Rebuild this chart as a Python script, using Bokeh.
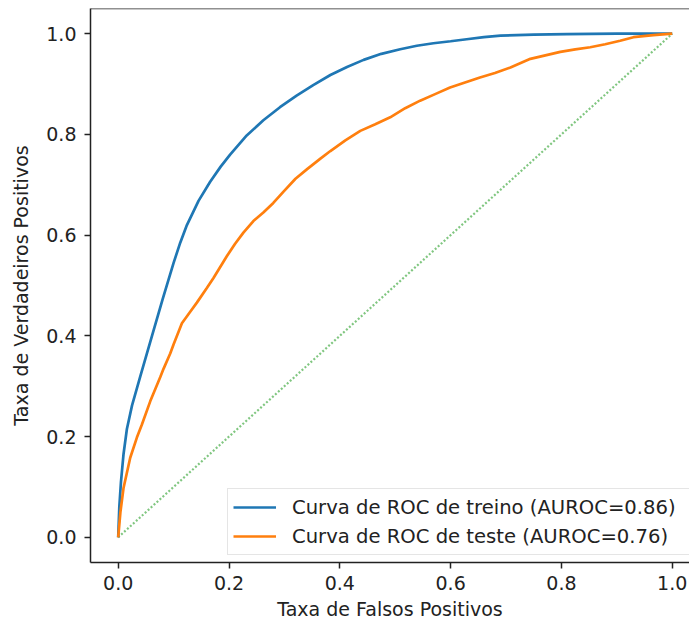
from bokeh.plotting import figure
from bokeh.models import FixedTicker, PrintfTickFormatter, Span, Legend, LegendItem
from bokeh.embed import file_html
from bokeh.resources import INLINE

# ---- data ----
train_fpr = [0.0, 0.002, 0.005, 0.0096, 0.0157, 0.025, 0.040, 0.061, 0.080, 0.100,
             0.112, 0.124, 0.145, 0.166, 0.185, 0.202, 0.232, 0.262, 0.292,
             0.322, 0.352, 0.383, 0.413, 0.443, 0.475, 0.509, 0.539, 0.569, 0.600,
             0.629, 0.660, 0.690, 0.750, 0.810, 0.900, 1.0]
train_tpr = [0.0, 0.06, 0.11, 0.165, 0.215, 0.262, 0.320, 0.400, 0.472, 0.545,
             0.585, 0.620, 0.668, 0.706, 0.736, 0.760, 0.798, 0.828, 0.854,
             0.877, 0.898, 0.918, 0.934, 0.948, 0.960, 0.969, 0.976, 0.981, 0.985,
             0.989, 0.993, 0.996, 0.998, 0.999, 1.0, 1.0]

test_fpr = [0.0, 0.004, 0.0096, 0.0217, 0.0337, 0.0428, 0.0578, 0.0758, 0.082, 0.0939,
            0.0999, 0.115, 0.130, 0.142, 0.160, 0.172, 0.196, 0.211, 0.226, 0.244,
            0.262, 0.280, 0.298, 0.320, 0.341, 0.365, 0.383, 0.410, 0.437, 0.464,
            0.491, 0.518, 0.545, 0.572, 0.599, 0.626, 0.653, 0.680, 0.708, 0.744,
            0.771, 0.798, 0.825, 0.852, 0.879, 0.906, 0.930, 0.966, 1.0]
test_tpr = [0.0, 0.05, 0.098, 0.158, 0.198, 0.224, 0.270, 0.318, 0.335, 0.365,
            0.383, 0.425, 0.448, 0.466, 0.495, 0.515, 0.558, 0.583, 0.605, 0.628,
            0.645, 0.664, 0.686, 0.712, 0.731, 0.752, 0.767, 0.788, 0.807, 0.820,
            0.834, 0.852, 0.867, 0.880, 0.893, 0.903, 0.913, 0.922, 0.933, 0.950,
            0.957, 0.964, 0.969, 0.973, 0.979, 0.986, 0.993, 0.997, 1.0]

diag = [0.0, 1.0]

train_label = "Curva de ROC de treino (AUROC=0.86)"
test_label = "Curva de ROC de teste (AUROC=0.76)"
x_title = "Taxa de Falsos Positivos"
y_title = "Taxa de Verdadeiros Positivos"
ticks = [0.0, 0.2, 0.4, 0.6, 0.8, 1.0]

FONT = "DejaVu Sans"
FS = "19px"

p = figure(width=689, height=622, output_backend="svg", toolbar_location=None,
           x_range=(-0.05, 1.0312), y_range=(-0.05, 1.05),
           min_border_left=90, min_border_top=8, min_border_right=0, min_border_bottom=0)
p.outline_line_color = None
p.grid.visible = False
p.background_fill_color = "white"
p.border_fill_color = "white"

l_diag = p.line(diag, diag, line_color="#2ca02c", line_alpha=0.6, line_width=2.2,
                line_dash="2 2")
l_train = p.line(train_fpr, train_tpr, line_color="#1f77b4", line_width=2.7)
l_test = p.line(test_fpr, test_tpr, line_color="#ff7f0e", line_width=2.7)

top_border = Span(location=1.05, dimension="width", line_color="#222222", line_width=1.5)
p.add_layout(top_border)

for ax in (p.xaxis[0], p.yaxis[0]):
    ax.ticker = FixedTicker(ticks=ticks)
    ax.formatter = PrintfTickFormatter(format="%.1f")
    ax.minor_tick_line_color = None
    ax.major_tick_in = 0
    ax.major_tick_out = 6
    ax.major_tick_line_width = 1.5
    ax.major_tick_line_color = "#222222"
    ax.axis_line_width = 1.5
    ax.axis_line_color = "#222222"
    ax.major_label_text_font = FONT
    ax.major_label_text_font_size = FS
    ax.major_label_text_color = "#222222"
    ax.axis_label_text_font = FONT
    ax.axis_label_text_font_size = FS
    ax.axis_label_text_font_style = "normal"
    ax.axis_label_text_color = "#222222"

p.xaxis.axis_label = x_title
p.yaxis.axis_label = y_title
p.xaxis.major_label_standoff = 7
p.xaxis.axis_label_standoff = 5
p.yaxis.major_label_standoff = 8
p.yaxis.axis_label_standoff = 11

legend = Legend(items=[LegendItem(label=train_label, renderers=[l_train]),
                       LegendItem(label=test_label, renderers=[l_test])],
                location=(137, 7))
legend.margin = 0
legend.padding = 5
legend.spacing = 3
legend.glyph_width = 43
legend.glyph_height = 26
legend.label_height = 26
legend.label_width = 392
legend.label_standoff = 16
legend.label_text_font = FONT
legend.label_text_font_size = "19.6px"
legend.label_text_color = "#222222"
legend.border_line_color = "#cccccc"
legend.border_line_width = 1.2
legend.background_fill_color = "white"
legend.background_fill_alpha = 0.8
p.add_layout(legend)

open("out.html", "w").write(file_html(p, INLINE))
